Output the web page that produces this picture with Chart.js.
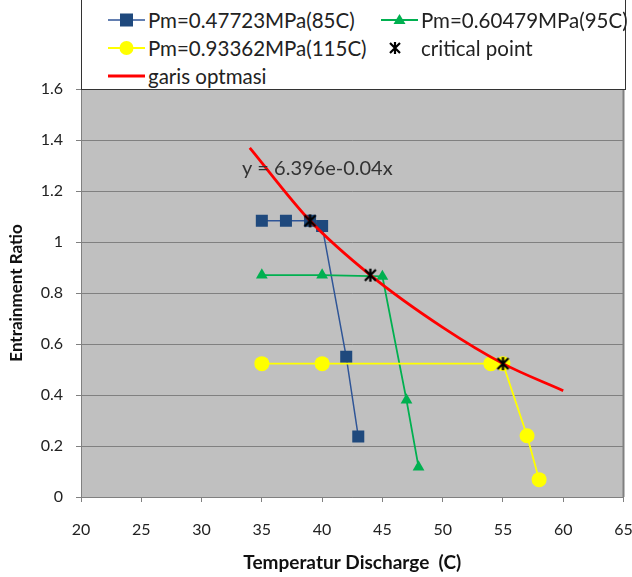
<!DOCTYPE html>
<html>
<head>
<meta charset="utf-8">
<script src="https://cdn.jsdelivr.net/npm/chart.js@4"></script>
<style>
  body { margin: 0; background: #fff; font-family: Lato, sans-serif; }
  #wrap { position: relative; width: 632px; height: 577px; }
  #legend { position: absolute; left: 81px; top: -2px; width: 543px; height: 91px;
            border: 1px solid #333; border-top: none; background: #fff; font-size: 20.5px; color: #222; }
  .item { position: absolute; height: 20px; line-height: 20px; white-space: nowrap; }
  .item svg { position: absolute; left: 0; top: 0; }
  .item span { position: absolute; left: 41px; top: 0; }
</style>
</head>
<body>
<div id="wrap">
  <canvas id="chart" width="632" height="577"></canvas>
  <div id="legend"></div>
</div>
<script>
// data
var blueX = [35, 37, 39, 40, 42, 43];
var blueY = [1.083, 1.083, 1.083, 1.063, 0.55, 0.237];
var greenX = [35, 40, 45, 47, 48];
var greenY = [0.87, 0.87, 0.865, 0.38, 0.117];
var yellowX = [35, 40, 54, 55, 57, 58];
var yellowY = [0.523, 0.523, 0.523, 0.523, 0.24, 0.068];
var critX = [39, 44, 55];
var critY = [1.083, 0.87, 0.523];
var redX = [34, 39, 44, 50, 55, 60];
var redY = [1.369, 1.083, 0.87, 0.665, 0.523, 0.417];
var labels = ['Pm=0.47723MPa(85C)', 'Pm=0.60479MPa(95C)', 'Pm=0.93362MPa(115C)', 'critical point', 'garis optmasi'];
var trendText = 'y = 6.396e-0.04x';

function pts(xs, ys) {
    return xs.map(function (x, i) { return { x: x, y: ys[i] }; });
}

// excel style star: an X with a vertical bar
function starMark(size) {
    var cv = document.createElement('canvas');
    cv.width = size; cv.height = size;
    var c = cv.getContext('2d');
    c.strokeStyle = '#000';
    c.lineWidth = 2.3;
    c.beginPath();
    c.moveTo(2, 2); c.lineTo(size - 2, size - 2);
    c.moveTo(size - 2, 2); c.lineTo(2, size - 2);
    c.moveTo(size / 2, 1); c.lineTo(size / 2, size - 1);
    c.stroke();
    return cv;
}

var bgPlugin = {
    id: 'bg',
    beforeDraw: function (chart) {
        var a = chart.chartArea, c = chart.ctx;
        c.save();
        c.fillStyle = '#C0C0C0';
        c.fillRect(a.left, a.top, a.right - a.left, a.bottom - a.top);
        c.strokeStyle = '#808080';
        c.lineWidth = 2;
        c.beginPath();
        c.moveTo(a.right, a.top);
        c.lineTo(a.right, a.bottom);
        c.stroke();
        c.restore();
    },
    afterDatasetsDraw: function (chart) {
        var c = chart.ctx, xs = chart.scales.x, ys = chart.scales.y;
        c.save();
        c.font = '20px Lato';
        c.fillStyle = '#333';
        c.textBaseline = 'middle';
        c.fillText(trendText, xs.getPixelForValue(33.35), ys.getPixelForValue(1.29));
        c.restore();
    }
};

var ctx = document.getElementById('chart').getContext('2d');
var myChart = new Chart(ctx, {
    type: 'scatter',
    data: {
        datasets: [{
            label: labels[0],
            data: pts(blueX, blueY),
            showLine: true,
            borderColor: '#2F5597',
            backgroundColor: '#1F497D',
            borderWidth: 1.5,
            pointStyle: 'rect',
            pointRadius: 8.5,
            pointBorderWidth: 0,
            order: 4
        }, {
            label: labels[1],
            data: pts(greenX, greenY),
            showLine: true,
            borderColor: '#00B050',
            backgroundColor: '#00B050',
            borderWidth: 1.8,
            pointStyle: 'triangle',
            pointRadius: 6.8,
            pointBorderWidth: 0,
            order: 3
        }, {
            label: labels[2],
            data: pts(yellowX, yellowY),
            showLine: true,
            borderColor: '#FFFF00',
            backgroundColor: '#FFFF00',
            borderWidth: 1.8,
            pointStyle: 'circle',
            pointRadius: 7.5,
            pointBorderWidth: 0,
            order: 2
        }, {
            label: labels[3],
            data: pts(critX, critY),
            showLine: false,
            pointStyle: starMark(15),
            order: 0
        }, {
            label: labels[4],
            data: pts(redX, redY),
            showLine: true,
            borderColor: '#FF0000',
            borderWidth: 2.8,
            pointRadius: 0,
            cubicInterpolationMode: 'monotone',
            order: 1
        }]
    },
    options: {
        responsive: false,
        animation: false,
        layout: { padding: { top: 89, right: 8, left: 0, bottom: 0 } },
        plugins: { legend: { display: false }, tooltip: { enabled: false } },
        scales: {
            x: {
                min: 20, max: 65,
                ticks: { stepSize: 5, padding: 18, color: '#222', font: { family: 'Lato', size: 16 } },
                grid: { drawOnChartArea: false, tickLength: 5, color: '#808080' },
                border: { color: '#808080' },
                title: { display: true, text: 'Temperatur Discharge  (C)', color: '#111',
                         font: { family: 'Lato', size: 19, weight: 'bold' }, padding: { top: 0, bottom: 3 } },
                afterFit: function (s) { s.height = 80; s.paddingLeft = 0; s.paddingRight = 0; }
            },
            y: {
                min: 0, max: 1.6,
                ticks: { stepSize: 0.2, padding: 13, color: '#222', font: { family: 'Lato', size: 16 },
                         callback: function (v) { return Math.round(v * 10) / 10; } },
                grid: { tickLength: 5, color: '#808080' },
                border: { color: '#808080' },
                title: { display: true, text: 'Entrainment Ratio', color: '#111',
                         font: { family: 'Lato', size: 17, weight: 'bold' }, padding: { top: 6, bottom: 0 } },
                afterFit: function (s) { s.width = 81; s.paddingTop = 0; s.paddingBottom = 0; }
            }
        }
    },
    plugins: [bgPlugin]
});

// legend drawn as html, two columns
var icons = [
    '<line x1="1" y1="10" x2="38" y2="10" stroke="#2F5597" stroke-width="1.5"/><rect x="13" y="3.5" width="13" height="13" fill="#1F497D"/>',
    '<line x1="1" y1="10" x2="38" y2="10" stroke="#00B050" stroke-width="1.8"/><polygon points="19.5,4 25.5,14 13.5,14" fill="#00B050"/>',
    '<line x1="1" y1="10" x2="38" y2="10" stroke="#FFFF00" stroke-width="1.8"/><circle cx="19.5" cy="10" r="7" fill="#FFFF00"/>',
    '<path d="M10 5 L20 15 M20 5 L10 15 M15 4 L15 16" stroke="#000" stroke-width="2.2"/>',
    '<line x1="1" y1="10" x2="38" y2="10" stroke="#FF0000" stroke-width="2.8"/>'
];
var spots = [[25, 12], [298, 12], [25, 40], [298, 40], [25, 68]];
var html = '';
for (var i = 0; i < labels.length; i++) {
    html += '<div class="item" style="left:' + spots[i][0] + 'px;top:' + spots[i][1] + 'px">' +
        '<svg width="40" height="20">' + icons[i] + '</svg><span>' + labels[i] + '</span></div>';
}
document.getElementById('legend').innerHTML = html;
</script>
</body>
</html>
